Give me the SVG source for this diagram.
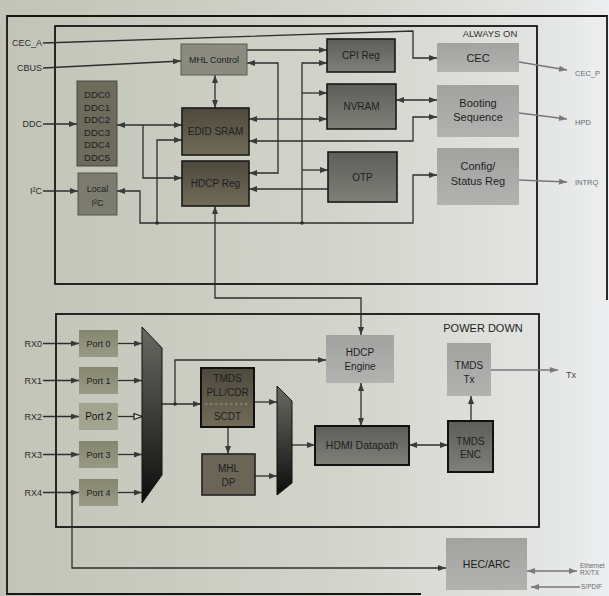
<svg xmlns="http://www.w3.org/2000/svg" width="609" height="596" viewBox="0 0 609 596">
<defs>
  <linearGradient id="bg" x1="0" y1="0" x2="1" y2="0">
    <stop offset="0" stop-color="#c3c4b7"/>
    <stop offset="0.55" stop-color="#d2d3ca"/>
    <stop offset="0.88" stop-color="#e2e4e2"/>
    <stop offset="1" stop-color="#eceef0"/>
  </linearGradient>
  <linearGradient id="gBrown" x1="0" y1="0" x2="0" y2="1">
    <stop offset="0" stop-color="#4d493d"/>
    <stop offset="1" stop-color="#716b58"/>
  </linearGradient>
  <linearGradient id="gGray" x1="0" y1="0" x2="0" y2="1">
    <stop offset="0" stop-color="#5d5d59"/>
    <stop offset="1" stop-color="#80807a"/>
  </linearGradient>
  <linearGradient id="gLight" x1="0" y1="0" x2="0" y2="1">
    <stop offset="0" stop-color="#a2a2a0"/>
    <stop offset="1" stop-color="#b2b2b0"/>
  </linearGradient>
  <linearGradient id="gPort" x1="0" y1="0" x2="0" y2="1">
    <stop offset="0" stop-color="#85866f"/>
    <stop offset="1" stop-color="#999a86"/>
  </linearGradient>
  <linearGradient id="gMux" x1="0" y1="0" x2="0" y2="1">
    <stop offset="0" stop-color="#6a6a64"/>
    <stop offset="1" stop-color="#0d0d0d"/>
  </linearGradient>
  <marker id="ah" viewBox="0 0 8 6" refX="8" refY="3" markerWidth="8" markerHeight="6" markerUnits="userSpaceOnUse" orient="auto-start-reverse">
    <path d="M0,0 L8,3 L0,6 z" fill="#3a3a3a"/>
  </marker>
  <marker id="ag" viewBox="0 0 8 6" refX="8" refY="3" markerWidth="9" markerHeight="6" markerUnits="userSpaceOnUse" orient="auto-start-reverse">
    <path d="M0,0 L8,3 L0,6 z" fill="#7a7a7a"/>
  </marker>
  <marker id="ao" viewBox="0 0 10 8" refX="9" refY="4" markerWidth="10" markerHeight="8" markerUnits="userSpaceOnUse" orient="auto">
    <path d="M1,1 L9,4 L1,7 z" fill="#d8d8d0" stroke="#222" stroke-width="1.2"/>
  </marker>
</defs>
<style>
  .t{font-family:"Liberation Sans",Arial,sans-serif;fill:#1e1e1e;text-anchor:middle}
  .l{font-family:"Liberation Sans",Arial,sans-serif;fill:#2a2a2a;font-size:9px;text-anchor:end}
  .r{font-family:"Liberation Sans",Arial,sans-serif;fill:#6a6a6a;font-size:7.5px}
  .f10{font-size:10px}
  .f11{font-size:11px}
  .f9{font-size:9px}
  .frame{fill:none;stroke:#151515;stroke-width:1.8}
  .ln{fill:none;stroke:#2e2e2e;stroke-width:1.3}
  .lg{fill:none;stroke:#777;stroke-width:1.3}
  .e{marker-end:url(#ah)}
  .b{marker-start:url(#ah);marker-end:url(#ah)}
  .bk{stroke:#1a1a1a;stroke-width:1.6}
  .dot{fill:#2a2a2a}
</style>
<rect width="609" height="596" fill="url(#bg)"/>

<g id="frames">
  <path class="frame" d="M607,300 L607,16 L7,16 L7,594 L421,594"/>
  <rect class="frame" x="55" y="26" width="482" height="258"/>
  <rect class="frame" x="56" y="314" width="483" height="213"/>
  <text class="t" x="490" y="37" style="font-size:9.5px;fill:#333">ALWAYS ON</text>
  <text class="t" x="483" y="332" style="font-size:11px;fill:#222">POWER DOWN</text>
</g>

<g id="labels">
  <text class="l" x="42" y="46">CEC_A</text>
  <text class="l" x="42" y="71">CBUS</text>
  <text class="l" x="42" y="127">DDC</text>
  <text class="l" x="42" y="194">I²C</text>
  <text class="l" x="42" y="346.5">RX0</text>
  <text class="l" x="42" y="384">RX1</text>
  <text class="l" x="42" y="420">RX2</text>
  <text class="l" x="42" y="458">RX3</text>
  <text class="l" x="42" y="496">RX4</text>
  <text class="r" x="575" y="76">CEC_P</text>
  <text class="r" x="575" y="125">HPD</text>
  <text class="r" x="575" y="185">INTRQ</text>
  <text class="r" x="566" y="378" style="font-size:9px;fill:#444">Tx</text>
  <text class="r" x="580" y="568" style="font-size:6.5px">Ethernet</text>
  <text class="r" x="580" y="575" style="font-size:6.5px">RX/TX</text>
  <text class="r" x="581" y="589" style="font-size:6.5px">S/PDIF</text>
</g>

<g id="connectors">
  <path class="ln e" d="M43,43 L413,31 L413,58 L437,58"/>
  <path class="ln e" d="M43,68 L181,61"/>
  <path class="ln e" d="M43,124 L77,124"/>
  <path class="ln e" d="M43,191 L78,191"/>
  <path class="ln e" d="M247,50 L327,50"/>
  <path class="ln b" d="M215,75 L215,108"/>
  <path class="ln b" d="M247,63 L278,63 L278,173 L249,173"/>
  <path class="ln e" d="M302,223 L302,63 L327,63"/>
  <path class="ln e" d="M302,93 L327,93"/>
  <path class="ln e" d="M302,170 L328,170"/>
  <path class="ln b" d="M117,191 L140,191 L140,223 L413,223 L413,175 L437,175"/>
  <path class="ln e" d="M157,223 L157,140 L182,140"/>
  <path class="ln b" d="M117,125 L182,125"/>
  <path class="ln e" d="M143,125 L143,178 L182,178"/>
  <path class="ln b" d="M249,119 L327,119"/>
  <path class="ln b" d="M249,141 L413,141 L413,117 L437,117"/>
  <path class="ln b" d="M396,100 L437,100"/>
  <path class="ln e" d="M328,189 L249,189"/>
  <path class="ln b" d="M215,206 L215,298 L361,298 L361,335"/>
  <path class="lg" marker-end="url(#ag)" d="M519,62 L567,70"/>
  <path class="lg" marker-end="url(#ag)" d="M519,113 L567,119"/>
  <path class="lg" marker-end="url(#ag)" d="M519,180 L567,182"/>

  <path class="ln e" d="M43,343.5 L79,343.5"/>
  <path class="ln e" d="M43,380.5 L79,380.5"/>
  <path class="ln e" d="M43,416.5 L79,416.5"/>
  <path class="ln e" d="M43,454.5 L79,454.5"/>
  <path class="ln e" d="M43,492.5 L79,492.5"/>
  <path class="ln e" d="M118,343.5 L142,343.5"/>
  <path class="ln e" d="M118,380.5 L142,380.5"/>
  <path class="ln" marker-end="url(#ao)" d="M118,416.5 L142,416.5"/>
  <path class="ln e" d="M118,454.5 L142,454.5"/>
  <path class="ln e" d="M118,492.5 L142,492.5"/>
  <path class="ln e" d="M162,404 L201,404"/>
  <path class="ln e" d="M175,404 L175,360 L326,360"/>
  <path class="ln e" d="M228,427 L228,454"/>
  <path class="ln e" d="M254,402 L277,402"/>
  <path class="ln e" d="M255,476 L277,476"/>
  <path class="ln e" d="M292,445 L315,445"/>
  <path class="ln b" d="M361,383 L361,426"/>
  <path class="ln b" d="M409,445 L448,445"/>
  <path class="ln e" d="M471,421 L471,396"/>
  <path class="lg" marker-end="url(#ag)" d="M491,370 L558,370"/>
  <path class="ln e" d="M72,492.5 L72,568 L446,568"/>
  <path class="lg" marker-start="url(#ag)" marker-end="url(#ag)" d="M527,571 L577,571"/>
  <path class="lg" marker-end="url(#ag)" d="M580,587 L531,587"/>
  <circle class="dot" cx="157" cy="223" r="1.8"/>
  <circle class="dot" cx="302" cy="223" r="1.8"/>
  <circle class="dot" cx="175" cy="404" r="1.8"/>
  <circle class="dot" cx="72" cy="492.5" r="1.8"/>
</g>

<g id="mhl-control"><rect x="181" y="44" width="66" height="31" fill="#8b8b7f" stroke="#5a5a52" stroke-width="1"/><text class="t f9" x="214" y="63">MHL Control</text></g>
<g id="cpi-reg"><rect class="bk" x="327" y="39" width="68" height="33" fill="url(#gGray)"/><text class="t f10" x="361" y="59">CPI Reg</text></g>
<g id="nvram"><rect class="bk" x="327" y="84" width="69" height="45" fill="url(#gGray)"/><text class="t f10" x="361.5" y="110">NVRAM</text></g>
<g id="otp"><rect class="bk" x="328" y="152" width="69" height="50" fill="url(#gGray)"/><text class="t f10" x="362.5" y="181">OTP</text></g>
<g id="edid-sram"><rect class="bk" x="182" y="108" width="67" height="47" fill="url(#gBrown)"/><text class="t f10" x="215.5" y="135">EDID SRAM</text></g>
<g id="hdcp-reg"><rect class="bk" x="182" y="161" width="67" height="45" fill="url(#gBrown)"/><text class="t f10" x="215.5" y="187">HDCP Reg</text></g>
<g id="ddc"><rect x="77" y="81" width="40" height="85" fill="#6e6b5d" stroke="#4a4a44" stroke-width="1"/>
  <text class="t" style="font-size:9.5px" x="97" y="97.5">DDC0</text>
  <text class="t" style="font-size:9.5px" x="97" y="110.5">DDC1</text>
  <text class="t" style="font-size:9.5px" x="97" y="123">DDC2</text>
  <text class="t" style="font-size:9.5px" x="97" y="135.5">DDC3</text>
  <text class="t" style="font-size:9.5px" x="97" y="148">DDC4</text>
  <text class="t" style="font-size:9.5px" x="97" y="161">DDC5</text>
</g>
<g id="local-i2c"><rect x="78" y="173" width="39" height="42" fill="#7b7c6f" stroke="#55554d" stroke-width="1"/><text class="t f9" x="97.5" y="192">Local</text><text class="t f9" x="97.5" y="206">I²C</text></g>
<g id="cec"><rect x="437" y="43" width="82" height="29" fill="url(#gLight)"/><text class="t f11" x="478" y="61.5">CEC</text></g>
<g id="booting"><rect x="437" y="85" width="82" height="52" fill="url(#gLight)"/><text class="t f11" x="478" y="107">Booting</text><text class="t f11" x="478" y="121">Sequence</text></g>
<g id="config"><rect x="437" y="148" width="82" height="57" fill="url(#gLight)"/><text class="t f11" x="478" y="170">Config/</text><text class="t f11" x="478" y="185">Status Reg</text></g>

<g id="port0"><rect x="79" y="330" width="39" height="27" fill="url(#gPort)"/><text class="t f9" x="98.5" y="347">Port 0</text></g>
<g id="port1"><rect x="79" y="367" width="39" height="27" fill="url(#gPort)"/><text class="t f9" x="98.5" y="384">Port 1</text></g>
<g id="port2"><rect x="79" y="403" width="39" height="27" fill="#a3a48f"/><text class="t" style="font-size:10px;fill:#111" x="98.5" y="420">Port 2</text></g>
<g id="port3"><rect x="79" y="441" width="39" height="27" fill="url(#gPort)"/><text class="t f9" x="98.5" y="458">Port 3</text></g>
<g id="port4"><rect x="79" y="479" width="39" height="27" fill="url(#gPort)"/><text class="t f9" x="98.5" y="496">Port 4</text></g>
<g id="mux1"><polygon points="142,327 162,348 162,475 142,503" fill="url(#gMux)" stroke="#111" stroke-width="1"/></g>
<g id="mux2"><polygon points="277,386 292,401 292,483 277,495" fill="url(#gMux)" stroke="#111" stroke-width="1"/></g>
<g id="tmds-pll"><rect x="201" y="368" width="53" height="59" fill="url(#gBrown)" stroke="#111" stroke-width="2"/>
  <text class="t f10" x="227.5" y="382">TMDS</text>
  <text class="t f10" x="227.5" y="396">PLL/CDR</text>
  <path d="M205,404 L250,404" stroke="#8a8878" stroke-width="1.5" stroke-dasharray="2.5 2.5"/>
  <text class="t f10" x="227.5" y="420">SCDT</text>
</g>
<g id="mhl-dp"><rect x="202" y="454" width="53" height="41" fill="#6b6558" stroke="#222" stroke-width="1.6"/><text class="t f10" x="228.5" y="472">MHL</text><text class="t f10" x="228.5" y="486">DP</text></g>
<g id="hdcp-engine"><rect x="326" y="335" width="68" height="48" fill="url(#gLight)"/><text class="t f10" x="360" y="356">HDCP</text><text class="t f10" x="360" y="370">Engine</text></g>
<g id="hdmi-datapath"><rect x="315" y="426" width="94" height="39" fill="url(#gGray)" stroke="#111" stroke-width="2"/><text class="t" style="font-size:10.5px" x="362" y="449">HDMI Datapath</text></g>
<g id="tmds-tx"><rect x="447" y="343" width="44" height="53" fill="url(#gLight)"/><text class="t f10" x="469" y="369">TMDS</text><text class="t f10" x="469" y="383">Tx</text></g>
<g id="tmds-enc"><rect x="448" y="421" width="45" height="51" fill="url(#gGray)" stroke="#111" stroke-width="2"/><text class="t f10" x="470.5" y="445">TMDS</text><text class="t f10" x="470.5" y="458">ENC</text></g>
<g id="hec-arc"><rect x="446" y="538" width="81" height="52" fill="url(#gLight)"/><text class="t" style="font-size:10.5px" x="486.5" y="568">HEC/ARC</text></g>
</svg>
